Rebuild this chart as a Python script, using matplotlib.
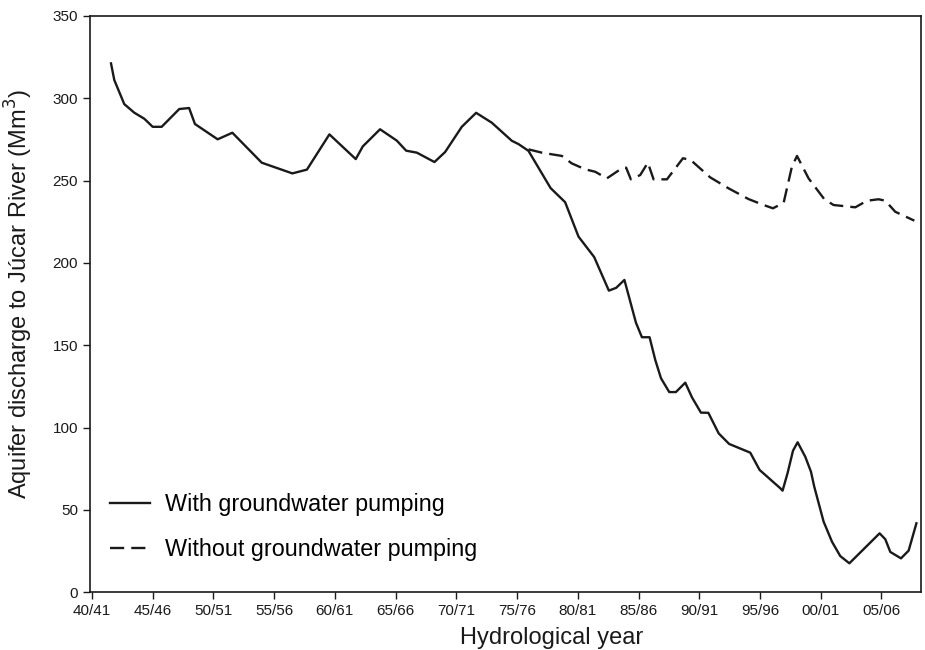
import numpy as np
import matplotlib.pyplot as plt

plt.rcParams['font.family'] = ['Liberation Sans', 'DejaVu Sans']

# With groundwater pumping (year position, Mm3)
with_year = [1941.57, 1941.84, 1942.66, 1943.48, 1944.31, 1945.0, 1945.74, 1947.19, 1948.0,
             1948.48, 1950.35, 1951.56, 1953.98, 1956.5, 1957.7, 1959.55, 1961.72, 1962.3,
             1963.72, 1965.1, 1965.87, 1966.75, 1968.2, 1969.08, 1970.45, 1971.63, 1972.92,
             1974.57, 1975.12, 1975.94, 1977.76, 1978.96, 1980.06, 1981.35, 1982.56, 1983.16,
             1983.84, 1984.79, 1985.28, 1985.91, 1986.38, 1986.85, 1987.53, 1988.08, 1988.85,
             1989.4, 1990.14, 1990.75, 1991.6, 1992.46, 1994.2, 1994.97, 1996.67, 1996.86,
             1997.27, 1997.72, 1998.1, 1998.73, 1999.2, 1999.47, 2000.24, 2000.93, 2001.61,
             2002.36, 2004.85, 2005.32, 2005.73, 2006.61, 2007.24, 2007.88]
with_val = [321.2, 311.1, 296.5, 291.3, 287.6, 282.7, 282.7, 293.5, 294.1,
            284.4, 275.1, 279.1, 260.9, 254.4, 256.7, 278.1, 263.1, 270.8,
            281.2, 274.3, 268.2, 267.0, 261.3, 267.4, 282.7, 291.2, 285.2,
            274.2, 272.2, 268.1, 245.5, 236.9, 216.0, 203.6, 183.2, 184.9,
            189.7, 163.7, 154.9, 154.9, 141.1, 130.0, 121.6, 121.6, 127.3,
            118.4, 109.1, 109.0, 96.5, 90.1, 84.8, 74.3, 63.2, 61.7,
            72.3, 86.0, 91.1, 82.3, 73.2, 64.1, 42.9, 30.7, 22.0,
            17.6, 35.8, 32.2, 24.5, 20.6, 25.3, 41.9]

# Without groundwater pumping
without_year = [1975.94, 1977.04, 1978.69, 1979.5, 1980.6, 1981.43, 1982.4, 1983.63, 1983.98,
                1984.37, 1985.14, 1985.77, 1986.24, 1987.34, 1988.66, 1989.3, 1990.9, 1992.42,
                1994.06, 1995.3, 1996.07, 1996.95, 1997.63, 1998.05, 1999.0, 2000.3, 2001.06,
                2002.85, 2003.81, 2004.77, 2005.32, 2006.14, 2007.71]
without_val = [269.0, 267.0, 265.0, 260.5, 256.9, 255.4, 251.4, 257.5, 257.9,
               250.8, 253.4, 260.9, 250.8, 250.8, 263.6, 262.5, 252.0, 245.3,
               238.8, 235.2, 233.2, 236.6, 258.5, 265.0, 251.4, 238.7, 235.2,
               233.8, 237.8, 238.7, 237.8, 231.1, 225.7]

tick_years = np.arange(1940, 2006, 5)
tick_labels = ['40/41', '45/46', '50/51', '55/56', '60/61', '65/66', '70/71',
               '75/76', '80/81', '85/86', '90/91', '95/96', '00/01', '05/06']

fig = plt.figure(figsize=(9.25, 6.5), dpi=100)
ax = fig.add_axes([0.0973, 0.0888, 0.8984, 0.8866])

ax.plot(with_year, with_val, color='#1a1a1a', lw=1.7, label='With groundwater pumping')
ax.plot(without_year, without_val, color='#1a1a1a', lw=1.7, dashes=(6.0, 3.0),
        label='Without groundwater pumping')

ax.set_xlim(1939.84, 2008.26)
ax.set_ylim(0, 350)
ax.set_xticks(tick_years)
ax.set_xticklabels(tick_labels)
ax.set_yticks(np.arange(0, 351, 50))
ax.tick_params(direction='out', length=5, width=1, labelsize=11, colors='#1a1a1a')

for s in ax.spines.values():
    s.set_linewidth(1.2)
    s.set_color('#1a1a1a')

ax.set_xlabel('Hydrological year', fontsize=17, color='#1a1a1a')
ax.set_ylabel('Aquifer discharge to Júcar River (Mm$^3$)', fontsize=17, color='#1a1a1a')
ax.xaxis.set_label_coords(0.555, -0.06, transform=ax.transAxes)
ax.yaxis.set_label_coords(-0.066, 0.518, transform=ax.transAxes)

leg = ax.legend(loc='lower left', bbox_to_anchor=(0.024, 0.054), frameon=False,
                handlelength=1.7, handletextpad=0.64, labelspacing=0.95, borderpad=0,
                borderaxespad=0, fontsize=16.8)

fig.savefig('out.png', dpi=100)
